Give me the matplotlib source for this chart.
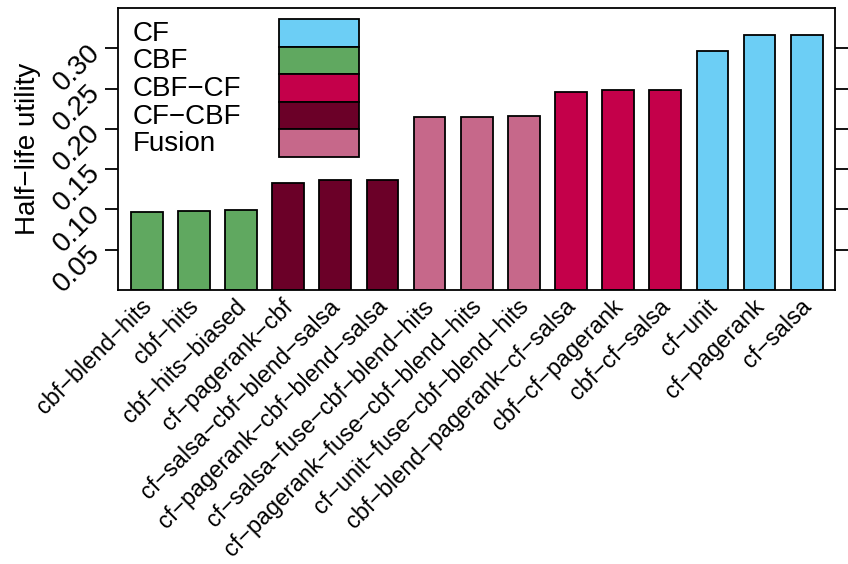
import numpy as np
import matplotlib.pyplot as plt
from matplotlib.patches import Rectangle
import matplotlib.transforms as mtransforms

plt.rcParams['font.family'] = ['Liberation Sans', 'DejaVu Sans']

# Data
methods = ['cbf-blend-hits', 'cbf-hits', 'cbf-hits-biased', 'cf-pagerank-cbf',
           'cf-salsa-cbf-blend-salsa', 'cf-pagerank-cbf-blend-salsa',
           'cf-salsa-fuse-cbf-blend-hits', 'cf-pagerank-fuse-cbf-blend-hits',
           'cf-unit-fuse-cbf-blend-hits', 'cbf-blend-pagerank-cf-salsa',
           'cbf-cf-pagerank', 'cbf-cf-salsa', 'cf-unit', 'cf-pagerank', 'cf-salsa']
utility = [0.0967, 0.0983, 0.0995, 0.1330, 0.1366, 0.1366,
           0.2150, 0.2150, 0.2163, 0.2455, 0.2480, 0.2480,
           0.2967, 0.3165, 0.3165]
groups = ['CBF', 'CBF', 'CBF', 'CF-CBF', 'CF-CBF', 'CF-CBF',
          'Fusion', 'Fusion', 'Fusion', 'CBF-CF', 'CBF-CF', 'CBF-CF',
          'CF', 'CF', 'CF']
legend_order = ['CF', 'CBF', 'CBF-CF', 'CF-CBF', 'Fusion']
yticks = [0.05, 0.10, 0.15, 0.20, 0.25, 0.30]

colors = {'CF': '#6CCEF5', 'CBF': '#60A860', 'CBF-CF': '#C4004A',
          'CF-CBF': '#6B0028', 'Fusion': '#C6688A'}

def minus(s):
    return s.replace('-', '\u2212')

W, H = 848, 564
fig = plt.figure(figsize=(W/100, H/100), dpi=100)
# axes box in pixels: left 118, right 835, top 8, bottom 290
ax = fig.add_axes([118/W, (H-290)/H, 717/W, 282/H])

x = np.arange(len(methods))
ax.bar(x, utility, width=0.673, color=[colors[g] for g in groups],
       edgecolor='black', linewidth=1.3, zorder=2)

ax.set_xlim(-0.61, 14.6)
ax.set_ylim(0, 0.35)

for s in ax.spines.values():
    s.set_linewidth(1.3)

ax.set_xticks([])
ax.set_yticks(yticks)
ax.set_yticklabels(['%.2f' % v for v in yticks], fontsize=20, rotation=45,
                   ha='right', va='center', rotation_mode='anchor')
ax.tick_params(axis='y', length=9.5, width=1.3, pad=6, right=True,
               labelright=False)

ax.set_ylabel(minus('Half-life utility'), fontsize=20)
ax.yaxis.set_label_coords(-0.108, 0.5)

# rotated category labels under each bar
off = mtransforms.offset_copy(ax.transData, fig=fig, x=-7, y=-5, units='dots')
for xi, m in zip(x, methods):
    ax.text(xi, 0, minus(m), transform=off, rotation=45, ha='right',
            va='top', rotation_mode='anchor', fontsize=16.8, clip_on=False)

# legend: names on the left, stacked colour boxes to the right
def ax_x(px):
    return (px - 118) / 717

def ax_y(py):
    return (290 - py) / 282

box_h = 27.6
for i, g in enumerate(legend_order):
    top = 19 + box_h*i
    ax.add_patch(Rectangle((ax_x(279), ax_y(top + box_h)), ax_x(359) - ax_x(279),
                           box_h/282, transform=ax.transAxes,
                           facecolor=colors[g], edgecolor='black',
                           linewidth=1.3, zorder=3))
    ax.text(ax_x(133), ax_y(top + box_h/2 + 1), minus(g), transform=ax.transAxes,
            fontsize=20, ha='left', va='center', zorder=3)

fig.savefig('out.png', dpi=100)
